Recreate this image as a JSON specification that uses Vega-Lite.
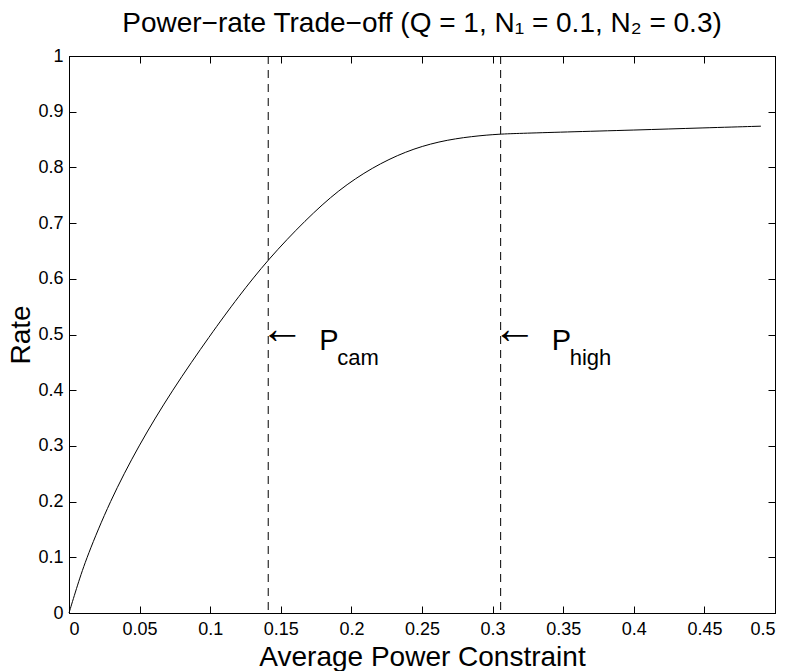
{
  "$schema": "https://vega.github.io/schema/vega-lite/v6.json",
  "width": 706,
  "height": 557,
  "autosize": {"type": "none"},
  "padding": {"left": 69, "top": 56, "right": 14, "bottom": 58},
  "background": "white",
  "title": {
    "text": "Power−rate Trade−off (Q = 1, N₁ = 0.1, N₂ = 0.3)",
    "font": "Liberation Sans",
    "fontSize": 28,
    "fontWeight": "normal",
    "color": "black",
    "anchor": "middle",
    "baseline": "alphabetic",
    "offset": 4,
    "dy": 17
  },
  "config": {
    "view": {"stroke": "black", "strokeWidth": 1},
    "axis": {
      "grid": false,
      "domainColor": "black",
      "domainWidth": 1,
      "tickColor": "black",
      "tickWidth": 1,
      "tickSize": -7,
      "labelColor": "black",
      "labelFont": "Liberation Sans",
      "labelFontSize": 18,
      "titleFont": "Liberation Sans",
      "titleFontSize": 28,
      "titleFontWeight": "normal",
      "titleColor": "black"
    }
  },
  "datasets": {
    "curve": [
      {"P": 0, "rate": 0},
      {"P": 0.006, "rate": 0.05},
      {"P": 0.0125, "rate": 0.1},
      {"P": 0.0288, "rate": 0.2},
      {"P": 0.0491, "rate": 0.3},
      {"P": 0.073, "rate": 0.4},
      {"P": 0.1003, "rate": 0.5},
      {"P": 0.12, "rate": 0.568},
      {"P": 0.141, "rate": 0.635},
      {"P": 0.1676, "rate": 0.706},
      {"P": 0.191, "rate": 0.76},
      {"P": 0.2148, "rate": 0.8},
      {"P": 0.2384, "rate": 0.829},
      {"P": 0.262, "rate": 0.847},
      {"P": 0.2856, "rate": 0.856},
      {"P": 0.3057, "rate": 0.86},
      {"P": 0.3187, "rate": 0.861},
      {"P": 0.35, "rate": 0.8635},
      {"P": 0.4, "rate": 0.867},
      {"P": 0.45, "rate": 0.871},
      {"P": 0.49, "rate": 0.874}
    ],
    "marks": [
      {"P": 0.1411, "rate": 0.5, "sub": "cam"},
      {"P": 0.3057, "rate": 0.5, "sub": "high"}
    ]
  },
  "layer": [
    {
      "data": {"name": "curve"},
      "mark": {"type": "line", "color": "black", "strokeWidth": 1, "interpolate": "basis"},
      "encoding": {
        "x": {
          "field": "P", "type": "quantitative",
          "scale": {"domain": [0, 0.5], "nice": false},
          "axis": {
            "orient": "bottom",
            "values": [0, 0.05, 0.1, 0.15, 0.2, 0.25, 0.3, 0.35, 0.4, 0.45, 0.5],
            "format": "~g",
            "labelPadding": 14,
            "title": "Average Power Constraint",
            "titleBaseline": "alphabetic",
            "titleY": 52
          }
        },
        "y": {
          "field": "rate", "type": "quantitative",
          "scale": {"domain": [0, 1], "nice": false},
          "axis": {
            "orient": "left",
            "values": [0, 0.1, 0.2, 0.3, 0.4, 0.5, 0.6, 0.7, 0.8, 0.9, 1],
            "format": "~g",
            "labelPadding": 13,
            "title": "Rate",
            "titleAngle": -90,
            "titleBaseline": "alphabetic",
            "titleX": -40,
            "titleY": 278.5
          }
        }
      }
    },
    {
      "data": {"name": "marks"},
      "mark": {"type": "rule", "color": "black", "strokeWidth": 1, "strokeDash": [8, 6]},
      "encoding": {
        "x": {"field": "P", "type": "quantitative", "scale": {"domain": [0, 0.5], "nice": false}, "axis": null}
      }
    },
    {
      "data": {"name": "marks"},
      "mark": {"type": "text", "text": "←", "align": "left", "baseline": "middle", "dx": -8, "dy": -5, "font": "Liberation Sans", "fontSize": 44, "color": "black"},
      "encoding": {
        "x": {
          "field": "P", "type": "quantitative",
          "scale": {"domain": [0, 0.5], "nice": false},
          "axis": {"orient": "top", "values": [0, 0.05, 0.1, 0.15, 0.2, 0.25, 0.3, 0.35, 0.4, 0.45, 0.5], "labels": false, "title": null}
        },
        "y": {
          "field": "rate", "type": "quantitative",
          "scale": {"domain": [0, 1], "nice": false},
          "axis": {"orient": "right", "values": [0, 0.1, 0.2, 0.3, 0.4, 0.5, 0.6, 0.7, 0.8, 0.9, 1], "labels": false, "title": null}
        }
      }
    },
    {
      "data": {"name": "marks"},
      "mark": {"type": "text", "text": "P", "align": "left", "baseline": "alphabetic", "dx": 51, "dy": 15.5, "font": "Liberation Sans", "fontSize": 29, "color": "black"},
      "encoding": {
        "x": {"field": "P", "type": "quantitative", "scale": {"domain": [0, 0.5], "nice": false}, "axis": null},
        "y": {"field": "rate", "type": "quantitative", "scale": {"domain": [0, 1], "nice": false}, "axis": null}
      }
    },
    {
      "data": {"name": "marks"},
      "mark": {"type": "text", "align": "left", "baseline": "alphabetic", "dx": 69, "dy": 30.5, "font": "Liberation Sans", "fontSize": 22, "color": "black"},
      "encoding": {
        "x": {"field": "P", "type": "quantitative", "scale": {"domain": [0, 0.5], "nice": false}, "axis": null},
        "y": {"field": "rate", "type": "quantitative", "scale": {"domain": [0, 1], "nice": false}, "axis": null},
        "text": {"field": "sub", "type": "nominal"}
      }
    }
  ],
  "resolve": {"axis": {"x": "independent", "y": "independent"}}
}
